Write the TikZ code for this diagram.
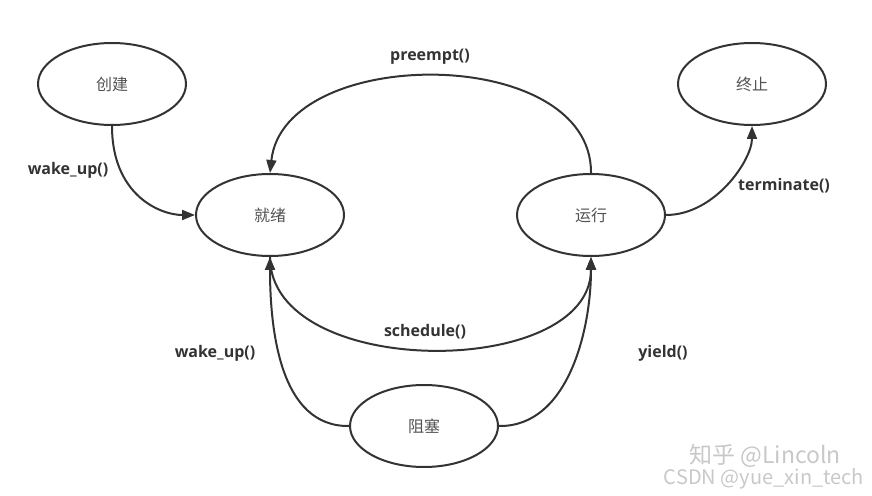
\documentclass[tikz,border=0pt]{standalone}
\usepackage{fontspec}
\setmainfont{Noto Sans CJK SC}
\newfontfamily\lblfont{Open Sans}
\usetikzlibrary{arrows.meta,shapes.geometric}
\definecolor{Ink}{HTML}{333333}
\definecolor{Mark}{HTML}{C8C8C8}

\begin{document}
\begin{tikzpicture}[x=.5pt,y=-.5pt,
  state/.style={ellipse,draw=Ink,line width=1pt,minimum width=74pt,
    minimum height=41pt,inner sep=0pt,text=Ink!85,
    font=\fontsize{8}{9}\selectfont},
  trans/.style={draw=Ink,line width=1pt,-{Triangle[length=6.5pt,width=5pt]}},
  lbl/.style={text=Ink,font=\lblfont\bfseries\fontsize{8}{9}\selectfont},
  wmark/.style={text=Mark,inner sep=0pt}]
  \useasboundingbox (0,0) rectangle (872,496);
  % states
  \node[state] (create) at (112,84) {创建};
  \node[state] (stop) at (752,84) {终止};
  \node[state] (ready) at (270,215) {就绪};
  \node[state] (run) at (591,215) {运行};
  \node[state] (block) at (424,426) {阻塞};
  % transitions
  \draw[trans] (create.south) .. controls (112,195) and (160,215) .. (ready.west);
  \draw[trans] (run.north) .. controls (592,44) and (284,44) .. (ready.north);
  \draw[trans] (run.east) .. controls (715,215) and (752,160) .. (stop.south);
  \draw[trans] (ready.south) .. controls (270,380) and (591,380) .. (run.south);
  \draw[trans] (block.west) .. controls (280,427) and (270,330) .. (ready.south);
  \draw[trans] (block.east) .. controls (568,427) and (591,330) .. (run.south);
  % labels
  \node[lbl] (lwake) at (68,170) {wake\_up()};
  \node[lbl] (lpre) at (430,57) {preempt()};
  \node[lbl] (lterm) at (784,186) {terminate()};
  \node[lbl] (lsched) at (425,332) {schedule()};
  \node[lbl] (lwake2) at (215,353) {wake\_up()};
  \node[lbl] (lyield) at (663,353) {yield()};
  % watermark
  \node[wmark,font=\fontsize{11.5}{12}\selectfont] (zhihu) at (765,456) {知乎 @Lincoln};
  \node[wmark,font=\fontsize{10}{11}\selectfont] (csdn) at (764,479) {CSDN @yue\_xin\_tech};
\end{tikzpicture}
\end{document}
